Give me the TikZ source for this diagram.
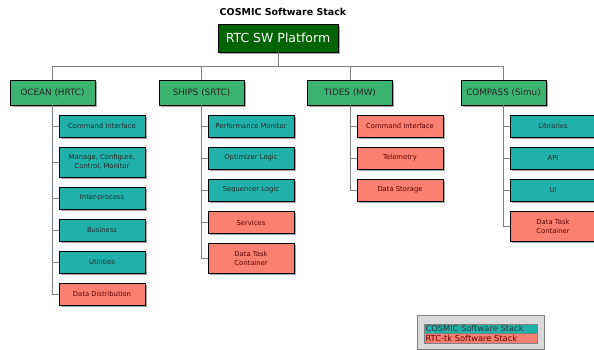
\documentclass[tikz,border=0pt]{standalone}
\usepackage{fontspec}
\setmainfont{DejaVu Sans}
\usetikzlibrary{shadows,positioning}

\definecolor{rootgreen}{HTML}{006400}
\definecolor{groupgreen}{HTML}{3CB371}
\definecolor{cosmicteal}{HTML}{20B2AA}
\definecolor{rtcsalmon}{HTML}{FA8072}
\definecolor{linegray}{HTML}{7F7F7F}

\begin{document}
\begin{tikzpicture}[x=1pt, y=-1pt,
    boxshadow/.style={drop shadow={shadow xshift=1.6pt, shadow yshift=-1.6pt, fill=black, opacity=0.35}},
    rootbox/.style={draw=black, line width=0.8pt, fill=rootgreen, text=white, minimum width=120pt, minimum height=28pt, inner sep=1pt, font=\fontsize{12.5}{14}\selectfont, boxshadow},
    groupbox/.style={draw=black, line width=0.8pt, fill=groupgreen, text=black!85, minimum width=85pt, minimum height=25pt, inner sep=1pt, font=\fontsize{8.8}{10}\selectfont, boxshadow},
    cosmicbox/.style={draw=black, line width=0.8pt, fill=cosmicteal, text=black!85, minimum width=86pt, minimum height=22pt, inner sep=1pt, align=center, font=\fontsize{6.8}{9}\selectfont, boxshadow},
    rtcbox/.style={cosmicbox, fill=rtcsalmon, text=red!35!black},
    conn/.style={draw=linegray, line width=0.9pt}]
    \useasboundingbox (0,0) rectangle (594,349);

    \node[font=\bfseries\fontsize{9.5}{11}\selectfont] (title) at (283,12) {COSMIC Software Stack};
    \node[rootbox] (root) at (278,38) {RTC SW Platform};

    \node[groupbox] (ocean) at (52.5,92.5) {OCEAN (HRTC)};
    \node[groupbox] (ships) at (201.5,92.5) {SHIPS (SRTC)};
    \node[groupbox] (tides) at (350,92.5) {TIDES (MW)};
    \node[groupbox] (compass) at (503.5,92.5) {COMPASS (Simu)};

    \draw[conn] (root.south) -- ++(0,14) -| (ocean.north);
    \draw[conn] (root.south) -- ++(0,14) -| (ships.north);
    \draw[conn] (root.south) -- ++(0,14) -| (tides.north);
    \draw[conn] (root.south) -- ++(0,14) -| (compass.north);

    \node[cosmicbox] (oceancmd) at (102,126) {Command Interface};
    \node[cosmicbox, minimum height=30pt] (oceanmcc) at (102,162) {Manage, Configure,\\Control, Monitor};
    \node[cosmicbox] (oceanipc) at (102,198) {Inter-process};
    \node[cosmicbox] (oceanbiz) at (102,230) {Business};
    \node[cosmicbox] (oceanutil) at (102,262) {Utilities};
    \node[rtcbox] (oceandist) at (102,294) {Data Distribution};

    \node[cosmicbox] (shipsperf) at (251,126) {Performance Monitor};
    \node[cosmicbox] (shipsopt) at (251,158) {Optimizer Logic};
    \node[cosmicbox] (shipsseq) at (251,190) {Sequencer Logic};
    \node[rtcbox] (shipssrv) at (251,222.5) {Services};
    \node[rtcbox, minimum height=30pt] (shipsdtc) at (251,258) {Data Task\\Container};

    \node[rtcbox] (tidescmd) at (400,126) {Command Interface};
    \node[rtcbox] (tidestel) at (400,158) {Telemetry};
    \node[rtcbox] (tidesstore) at (400,190) {Data Storage};

    \node[cosmicbox] (complib) at (553,126) {Libraries};
    \node[cosmicbox] (compapi) at (553,158) {API};
    \node[cosmicbox] (compui) at (553,190) {UI};
    \node[rtcbox, minimum height=30pt] (compdtc) at (553,226) {Data Task\\Container};

    \draw[conn] (ocean.south) |- (oceancmd.west);
    \draw[conn] (ocean.south) |- (oceanmcc.west);
    \draw[conn] (ocean.south) |- (oceanipc.west);
    \draw[conn] (ocean.south) |- (oceanbiz.west);
    \draw[conn] (ocean.south) |- (oceanutil.west);
    \draw[conn] (ocean.south) |- (oceandist.west);

    \draw[conn] (ships.south) |- (shipsperf.west);
    \draw[conn] (ships.south) |- (shipsopt.west);
    \draw[conn] (ships.south) |- (shipsseq.west);
    \draw[conn] (ships.south) |- (shipssrv.west);
    \draw[conn] (ships.south) |- (shipsdtc.west);

    \draw[conn] (tides.south) |- (tidescmd.west);
    \draw[conn] (tides.south) |- (tidestel.west);
    \draw[conn] (tides.south) |- (tidesstore.west);

    \draw[conn] (compass.south) |- (complib.west);
    \draw[conn] (compass.south) |- (compapi.west);
    \draw[conn] (compass.south) |- (compui.west);
    \draw[conn] (compass.south) |- (compdtc.west);

    \fill[gray!30, draw=gray, line width=0.8pt] (417,315) rectangle (544,349);
    \node[draw=gray, fill=cosmicteal, minimum width=113pt, minimum height=9.5pt, inner sep=0pt, text width=110pt, align=left, font=\fontsize{8.3}{9}\selectfont, text=black!80] (legcosmic) at (480.5,328.5) {COSMIC Software Stack};
    \node[draw=gray, fill=rtcsalmon, minimum width=113pt, minimum height=9.5pt, inner sep=0pt, text width=110pt, align=left, font=\fontsize{8.3}{9}\selectfont, text=red!40!black, below=0pt of legcosmic] (legrtc) {RTC-tk Software Stack};
\end{tikzpicture}
\end{document}
